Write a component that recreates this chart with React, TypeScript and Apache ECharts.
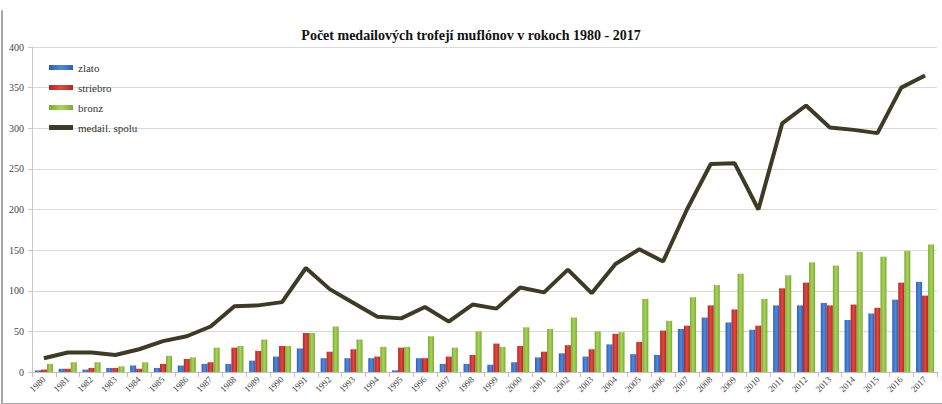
import React, { useEffect, useRef } from "react";
import * as echarts from "echarts";

const years = ["1980","1981","1982","1983","1984","1985","1986","1987","1988","1989","1990","1991","1992","1993","1994","1995","1996","1997","1998","1999","2000","2001","2002","2003","2004","2005","2006","2007","2008","2009","2010","2011","2012","2013","2014","2015","2016","2017"];
const zlato = [2,4,3,5,8,5,8,10,10,14,19,29,17,17,17,2,17,10,10,9,12,18,23,19,34,22,21,53,67,61,52,82,82,85,64,72,89,111];
const striebro = [3,4,5,5,4,10,16,12,30,26,32,48,25,28,19,30,17,19,21,35,32,25,33,28,47,37,51,57,82,77,57,103,110,82,83,79,110,94];
const bronz = [10,12,12,7,12,20,18,30,32,40,32,48,56,40,31,31,44,30,50,31,55,53,67,50,49,90,63,92,107,121,90,119,135,131,148,142,149,157];
const spolu = [17,24,24,21,28,38,44,56,81,82,86,128,102,85,68,66,80,62,83,78,104,98,126,97,133,151,136,200,256,257,200,306,328,301,298,294,350,365];

const FONT = "Liberation Serif";

function grad(c1: string, c2: string) {
  return new echarts.graphic.LinearGradient(0, 0, 1, 0, [
    { offset: 0, color: c1 },
    { offset: 0.5, color: c2 },
    { offset: 1, color: c1 },
  ]);
}

const frameAxis = {
  show: true,
  axisLine: { show: true, lineStyle: { color: "#a6a6a6", width: 2 } },
  axisTick: { show: false },
  axisLabel: { show: false },
  splitLine: { show: false },
};

export default function App() {
  const ref = useRef<HTMLDivElement>(null);
  useEffect(() => {
    document.body.style.margin = "0";
    const chart = echarts.init(ref.current!, null, { renderer: "svg" });
    chart.setOption({
      animation: false,
      backgroundColor: "#ffffff",
      textStyle: { fontFamily: FONT },
      title: {
        text: "Počet medailových trofejí muflónov v rokoch 1980 - 2017",
        left: "center",
        top: 23,
        textStyle: { fontFamily: FONT, fontSize: 14, fontWeight: "bold", color: "#111" },
      },
      legend: {
        orient: "vertical",
        left: 44,
        top: 57,
        itemGap: 9,
        itemWidth: 24,
        itemHeight: 5,
        icon: "rect",
        formatter: "{a|{name}}",
        textStyle: {
          fontFamily: FONT,
          fontSize: 11,
          color: "#333",
          rich: { a: { fontFamily: FONT, fontSize: 11, color: "#333" } },
        },
        data: ["zlato", "striebro", "bronz", "medail. spolu"],
      },
      grid: [
        { left: 32, right: 5, top: 47, bottom: 32 },
        { left: 2, right: -20, top: 11, bottom: -20 },
      ],
      xAxis: [
        {
          type: "category",
          data: years,
          axisLine: { lineStyle: { color: "#bfbfbf" } },
          axisTick: { show: true, alignWithLabel: false, lineStyle: { color: "#bfbfbf" } },
          axisLabel: { rotate: 45, fontFamily: FONT, fontSize: 9, color: "#444", margin: 6, interval: 0 },
        },
        { type: "value", gridIndex: 1, position: "top", min: 0, max: 1, ...frameAxis },
      ],
      yAxis: [
        {
          type: "value",
          min: 0,
          max: 400,
          interval: 50,
          axisLine: { show: true, lineStyle: { color: "#c8c8c8" } },
          axisTick: { show: true, length: 4, lineStyle: { color: "#c8c8c8" } },
          axisLabel: { fontFamily: FONT, fontSize: 10, color: "#444", margin: 8 },
          splitLine: { lineStyle: { color: "#d9d9d9", width: 1.2 } },
        },
        { type: "value", gridIndex: 1, position: "left", min: 0, max: 1, ...frameAxis },
      ],
      series: [
        {
          name: "zlato",
          type: "bar",
          data: zlato,
          barGap: "0%",
          barCategoryGap: "24%",
          itemStyle: { color: grad("#2e5fb0", "#4f8ae0") },
        },
        {
          name: "striebro",
          type: "bar",
          data: striebro,
          itemStyle: { color: grad("#b3261e", "#e04848") },
        },
        {
          name: "bronz",
          type: "bar",
          data: bronz,
          itemStyle: { color: grad("#7caa2e", "#a6d45a") },
        },
        {
          name: "medail. spolu",
          type: "line",
          data: spolu,
          symbol: "none",
          lineStyle: { color: "#3d3b24", width: 4 },
          itemStyle: { color: "#3d3b24" },
        },
      ],
    });
    return () => chart.dispose();
  }, []);
  return <div ref={ref} style={{ width: 942, height: 404 }} />;
}
